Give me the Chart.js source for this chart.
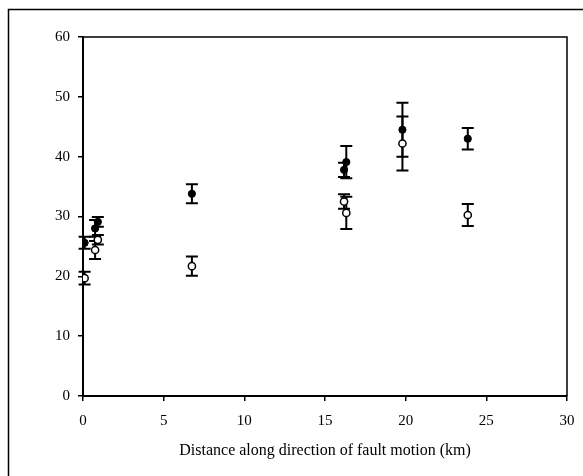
<!DOCTYPE html>
<html>
<head>
<meta charset="utf-8">
<script src="https://cdn.jsdelivr.net/npm/chart.js@4.4.0/dist/chart.umd.min.js"></script>
<style>
  html, body { margin: 0; padding: 0; background: #fff; }
  #wrap { width: 583px; height: 476px; position: relative; }
</style>
</head>
<body>
<div id="wrap"><canvas id="c"></canvas></div>
<script>
// distance along direction of fault motion (km)
const distances = [0.1, 0.75, 0.92, 6.75, 16.18, 16.32, 19.8, 23.85];
// filled circles and their error (+/-)
const filledValues = [25.6, 28.0, 29.1, 33.8, 37.8, 39.1, 44.5, 43.0];
const filledErrors = [1.0, 1.4, 0.8, 1.6, 1.2, 2.7, 4.5, 1.8];
// open circles and their error (+/-)
const openValues = [19.7, 24.4, 26.1, 21.7, 32.5, 30.6, 42.2, 30.25];
const openErrors = [1.05, 1.5, 0.8, 1.6, 1.2, 2.7, 4.5, 1.85];

const xTicks = [0, 5, 10, 15, 20, 25, 30];
const yTicks = [0, 10, 20, 30, 40, 50, 60];

const FONT = "'Liberation Serif', 'Times New Roman', serif";

function toPoints(vals){
  return distances.map((d, i) => ({ x: d, y: vals[i] }));
}

/* error bars, drawn under the markers */
const errorBars = {
  id: 'errorBars',
  beforeDatasetsDraw(chart){
    const { ctx, scales: { x, y } } = chart;
    const sets = [[filledValues, filledErrors], [openValues, openErrors]];
    ctx.save();
    ctx.strokeStyle = '#000';
    ctx.lineWidth = 2;
    sets.forEach(([vals, errs]) => {
      vals.forEach((v, i) => {
        const px = x.getPixelForValue(distances[i]);
        const top = y.getPixelForValue(v + errs[i]);
        const bot = y.getPixelForValue(v - errs[i]);
        ctx.beginPath();
        ctx.moveTo(px, top); ctx.lineTo(px, bot);
        ctx.moveTo(px - 6, top); ctx.lineTo(px + 6, top);
        ctx.moveTo(px - 6, bot); ctx.lineTo(px + 6, bot);
        ctx.stroke();
      });
    });
    ctx.restore();
  }
};

/* outer frame + box around plot area */
const frames = {
  id: 'frames',
  beforeDraw(chart){
    const { ctx } = chart;
    ctx.save();
    ctx.fillStyle = '#fff';
    ctx.fillRect(0, 0, chart.width, chart.height);
    ctx.strokeStyle = '#000';
    ctx.lineWidth = 1.5;
    ctx.beginPath();
    ctx.moveTo(8.5, chart.height + 2);
    ctx.lineTo(8.5, 9.5);
    ctx.lineTo(chart.width + 2, 9.5);
    ctx.stroke();
    ctx.restore();
  },
  afterDraw(chart){
    const { ctx, chartArea: a } = chart;
    ctx.save();
    ctx.strokeStyle = '#000';
    ctx.lineWidth = 1.5;
    ctx.beginPath();
    ctx.moveTo(a.left, a.top);
    ctx.lineTo(a.right, a.top);
    ctx.lineTo(a.right, a.bottom);
    ctx.stroke();
    ctx.restore();
  }
};

new Chart(document.getElementById('c'), {
  type: 'scatter',
  data: {
    datasets: [
      {
        label: 'filled',
        data: toPoints(filledValues),
        pointRadius: 3.6,
        pointBackgroundColor: '#000',
        pointBorderColor: '#000',
        pointBorderWidth: 1
      },
      {
        label: 'open',
        data: toPoints(openValues),
        pointRadius: 3.6,
        pointBackgroundColor: '#fff',
        pointBorderColor: '#000',
        pointBorderWidth: 1.5
      }
    ]
  },
  options: {
    responsive: true,
    maintainAspectRatio: false,
    animation: false,
    layout: { padding: { left: 0, right: 16, top: 37, bottom: 16 } },
    plugins: { legend: { display: false }, tooltip: { enabled: false } },
    scales: {
      x: {
        type: 'linear', min: 0, max: 30,
        afterBuildTicks: s => { s.ticks = xTicks.map(v => ({ value: v })); },
        afterFit: s => { s.height = 64; s.paddingRight = 0; s.paddingLeft = 0; },
        border: { display: true, color: '#000', width: 2 },
        grid: { drawOnChartArea: false, drawTicks: true, tickLength: 5, color: '#000', lineWidth: 1.5 },
        ticks: { color: '#000', padding: 11, maxRotation: 0, font: { family: FONT, size: 15 } },
        title: {
          display: true,
          text: 'Distance along direction of fault motion (km)',
          color: '#000',
          padding: { top: 10, bottom: 0 },
          font: { family: FONT, size: 16 }
        }
      },
      y: {
        type: 'linear', min: 0, max: 60,
        afterBuildTicks: s => { s.ticks = yTicks.map(v => ({ value: v })); },
        afterFit: s => { s.width = 83; },
        border: { display: true, color: '#000', width: 2 },
        grid: { drawOnChartArea: false, drawTicks: true, tickLength: 5, color: '#000', lineWidth: 1.5 },
        ticks: { color: '#000', padding: 8, font: { family: FONT, size: 15 } }
      }
    }
  },
  plugins: [frames, errorBars]
});
</script>
</body>
</html>
